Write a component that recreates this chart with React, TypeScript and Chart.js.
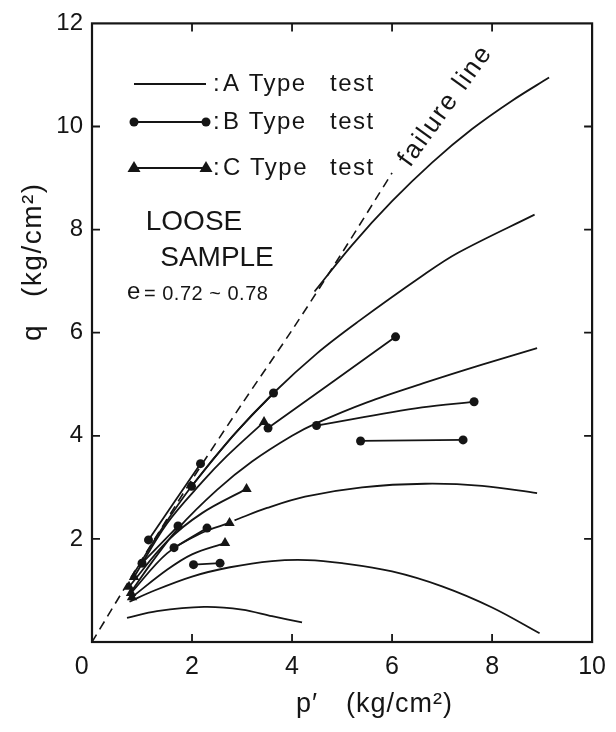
import React, { useEffect, useRef } from 'react';
import { Chart, registerables } from 'chart.js';

Chart.register(...registerables);

// ---- data (p', q in kg/cm2) ----
const xTickValues = [0, 2, 4, 6, 8, 10];
const yTickValues = [0, 2, 4, 6, 8, 10, 12];

const failureLine = [[0, 0], [1, 1.6], [2, 3.15], [3, 4.62], [4, 6.05], [5, 7.55], [6, 9.1]];

// A type tests (solid lines, no markers)
const aPath1 = [[4.45, 6.8], [5.2, 7.7], [6.0, 8.55], [6.8, 9.3], [7.6, 9.95], [8.4, 10.5], [9.14, 10.95]];
const aPath2 = [[0.85, 1.35], [1.4, 2.2], [1.99, 3.02], [2.8, 3.98], [3.63, 4.83], [4.5, 5.6], [5.3, 6.2], [6.6, 7.1], [7.32, 7.55], [8.85, 8.29]];
const aPath3 = [[0.8, 1.0], [1.2, 1.55], [1.72, 2.2], [2.5, 2.95], [3.2, 3.5], [4.0, 4.0], [4.5, 4.25], [5.5, 4.65], [6.66, 5.03], [7.8, 5.38], [8.9, 5.7]];
const aPath4 = [[2.85, 2.36], [3.5, 2.6], [4.26, 2.82], [5.4, 3.0], [6.66, 3.07], [7.8, 3.03], [8.9, 2.89]];
const aPath5 = [[0.75, 0.78], [1.2, 0.98], [2.0, 1.27], [2.76, 1.45], [3.6, 1.57], [4.3, 1.59], [5.0, 1.53], [6.0, 1.37], [7.0, 1.08], [8.0, 0.67], [8.95, 0.17]];
const aPath6 = [[0.7, 0.47], [1.3, 0.6], [2.24, 0.68], [3.0, 0.63], [3.6, 0.5], [4.2, 0.38]];

// B type tests (dots at both ends)
const bPath1 = [[1.13, 1.98], [2.17, 3.46]];
const bPath2 = [[1.99, 3.02], [2.8, 3.98], [3.63, 4.83]];
const bPath3 = [[3.52, 4.15], [6.07, 5.92]];
const bPath4 = [[4.49, 4.2], [6.6, 4.55], [7.64, 4.66]];
const bPath5 = [[5.37, 3.9], [7.42, 3.92]];
const bPath6 = [[1.64, 1.83], [2.3, 2.21]];
const bPath7 = [[2.03, 1.5], [2.56, 1.53]];
const bPath8 = [[1.0, 1.53], [1.72, 2.25]];

// C type tests (triangles at both ends)
const cPath1 = [[0.84, 1.26], [1.5, 2.3], [2.2, 3.1], [2.69, 3.6], [3.44, 4.27]];
const cPath2 = [[0.74, 1.07], [1.5, 1.95], [2.2, 2.5], [3.09, 2.97]];
const cPath3 = [[0.78, 0.95], [1.5, 1.72], [2.2, 2.12], [2.75, 2.31]];
const cPath4 = [[0.8, 0.87], [1.5, 1.4], [2.0, 1.7], [2.66, 1.92]];

const aPaths = [aPath1, aPath2, aPath3, aPath4, aPath5, aPath6];
const bPaths = [bPath1, bPath2, bPath3, bPath4, bPath5, bPath6, bPath7, bPath8];
const cPaths = [cPath1, cPath2, cPath3, cPath4];

const INK = '#151515';
const FONT = '"Liberation Sans", Arial, sans-serif';

const toXY = (pts: number[][]) => pts.map(([x, y]) => ({ x, y }));
const endRadius = (pts: number[][], r: number) => pts.map((_, i) => (i === 0 || i === pts.length - 1 ? r : 0));

function buildDatasets() {
  const ds: any[] = [];
  ds.push({
    label: 'failure line',
    data: toXY(failureLine),
    showLine: true,
    borderColor: INK,
    borderWidth: 1.6,
    borderDash: [9, 6],
    pointRadius: 0,
    tension: 0.3,
  });
  aPaths.forEach((p, i) =>
    ds.push({
      label: 'A' + (i + 1),
      data: toXY(p),
      showLine: true,
      borderColor: INK,
      borderWidth: 1.8,
      pointRadius: 0,
      tension: 0.35,
    })
  );
  bPaths.forEach((p, i) =>
    ds.push({
      label: 'B' + (i + 1),
      data: toXY(p),
      showLine: true,
      borderColor: INK,
      backgroundColor: INK,
      borderWidth: 1.8,
      pointRadius: endRadius(p, 4.5),
      pointBorderWidth: 0,
      pointStyle: 'circle',
      tension: 0.35,
    })
  );
  cPaths.forEach((p, i) =>
    ds.push({
      label: 'C' + (i + 1),
      data: toXY(p),
      showLine: true,
      borderColor: INK,
      backgroundColor: INK,
      borderWidth: 1.8,
      pointRadius: endRadius(p, 6),
      pointBorderWidth: 0,
      pointStyle: 'triangle',
      tension: 0.35,
    })
  );
  return ds;
}

const decorPlugin = {
  id: 'decor',
  afterDraw(chart: any) {
    const ctx = chart.ctx as CanvasRenderingContext2D;
    const { left, right, top, bottom } = chart.chartArea;
    const xs = chart.scales.x;
    const ys = chart.scales.y;
    ctx.save();
    ctx.strokeStyle = INK;
    ctx.fillStyle = INK;
    // frame
    ctx.lineWidth = 2.2;
    ctx.strokeRect(left, top, right - left, bottom - top);
    // inward ticks
    ctx.lineWidth = 1.8;
    const tl = 8;
    xTickValues.slice(1, -1).forEach((v) => {
      const px = xs.getPixelForValue(v);
      ctx.beginPath();
      ctx.moveTo(px, bottom); ctx.lineTo(px, bottom - tl);
      ctx.moveTo(px, top); ctx.lineTo(px, top + tl);
      ctx.stroke();
    });
    yTickValues.slice(1, -1).forEach((v) => {
      const py = ys.getPixelForValue(v);
      ctx.beginPath();
      ctx.moveTo(left, py); ctx.lineTo(left + tl, py);
      ctx.moveTo(right, py); ctx.lineTo(right - tl, py);
      ctx.stroke();
    });

    // legend
    ctx.lineWidth = 1.8;
    const legendRows = [
      { y: 84, kind: 'A', label: 'A Type' },
      { y: 122, kind: 'B', label: 'B Type' },
      { y: 168, kind: 'C', label: 'C Type' },
    ];
    legendRows.forEach((r) => {
      const x0 = 134, x1 = 206;
      ctx.beginPath();
      ctx.moveTo(x0, r.y); ctx.lineTo(x1, r.y);
      ctx.stroke();
      if (r.kind === 'B') {
        [x0, x1].forEach((x) => { ctx.beginPath(); ctx.arc(x, r.y, 4.5, 0, Math.PI * 2); ctx.fill(); });
      }
      if (r.kind === 'C') {
        [x0, x1].forEach((x) => {
          ctx.beginPath();
          ctx.moveTo(x, r.y - 7); ctx.lineTo(x + 6.5, r.y + 4); ctx.lineTo(x - 6.5, r.y + 4);
          ctx.closePath(); ctx.fill();
        });
      }
      ctx.font = '24px ' + FONT;
      (ctx as any).letterSpacing = '1.5px';
      ctx.textBaseline = 'middle';
      ctx.textAlign = 'left';
      ctx.fillText(':', 213, r.y);
      ctx.fillText(r.label, 223, r.y);
      ctx.fillText('test', 330, r.y);
    });
    (ctx as any).letterSpacing = '0px';

    // sample annotation
    ctx.textAlign = 'center';
    ctx.font = '28px ' + FONT;
    ctx.fillText('LOOSE', 194, 222);
    ctx.fillText('SAMPLE', 217, 258);
    ctx.textAlign = 'left';
    ctx.font = '24px ' + FONT;
    ctx.fillText('e', 127, 292);
    ctx.font = '20px ' + FONT;
    (ctx as any).letterSpacing = '0.5px';
    ctx.fillText('= 0.72 ~ 0.78', 144, 294);
    (ctx as any).letterSpacing = '0px';

    // failure line label
    ctx.save();
    ctx.translate(410, 168);
    ctx.rotate(-Math.atan2(120, 86));
    ctx.font = '26px ' + FONT;
    (ctx as any).letterSpacing = '2px';
    ctx.textAlign = 'left';
    ctx.textBaseline = 'alphabetic';
    ctx.fillText('failure line', 0, 0);
    ctx.restore();

    // axis titles
    ctx.font = '27px ' + FONT;
    ctx.textBaseline = 'alphabetic';
    ctx.textAlign = 'left';
    (ctx as any).letterSpacing = '1px';
    ctx.fillText('p\u2032', 296, 712);
    ctx.fillText('(kg/cm\u00b2)', 346, 712);

    ctx.save();
    ctx.translate(41, 341);
    ctx.rotate(-Math.PI / 2);
    ctx.font = '28px ' + FONT;
    (ctx as any).letterSpacing = '1.5px';
    ctx.fillText('q', 0, 0);
    ctx.fillText('(kg/cm\u00b2)', 44, 0);
    ctx.restore();

    ctx.restore();
  },
};

export default function App() {
  const ref = useRef<HTMLCanvasElement | null>(null);
  useEffect(() => {
    if (!ref.current) return;
    const chart = new Chart(ref.current, {
      type: 'scatter',
      data: { datasets: buildDatasets() },
      options: {
        animation: false,
        responsive: false,
        events: [],
        layout: { padding: { top: 20, right: 9, left: 0, bottom: 0 } },
        plugins: { legend: { display: false }, tooltip: { enabled: false } },
        scales: {
          x: {
            type: 'linear',
            min: 0,
            max: 10,
            afterFit: (s: any) => { s.height = 90; },
            afterBuildTicks: (s: any) => { s.ticks = xTickValues.map((v) => ({ value: v })); },
            grid: { display: false, drawTicks: false },
            border: { display: false },
            ticks: {
              color: INK,
              font: { size: 25, family: FONT },
              padding: 10,
              maxRotation: 0,
              callback: (v: any) => (v === 0 ? '0   ' : String(v)),
            },
          },
          y: {
            type: 'linear',
            min: 0,
            max: 12,
            afterFit: (s: any) => { s.width = 92; },
            afterBuildTicks: (s: any) => { s.ticks = yTickValues.map((v) => ({ value: v })); },
            grid: { display: false, drawTicks: false },
            border: { display: false },
            ticks: {
              color: INK,
              font: { size: 24, family: FONT },
              padding: 9,
              callback: (v: any) => (v === 0 ? '' : String(v)),
            },
          },
        },
      } as any,
      plugins: [decorPlugin],
    });
    return () => chart.destroy();
  }, []);
  return (
    <div style={{ position: 'absolute', left: 0, top: 0, width: 616, height: 732, background: '#fff' }}>
      <canvas ref={ref} width={616} height={732} style={{ display: 'block' }} />
    </div>
  );
}
